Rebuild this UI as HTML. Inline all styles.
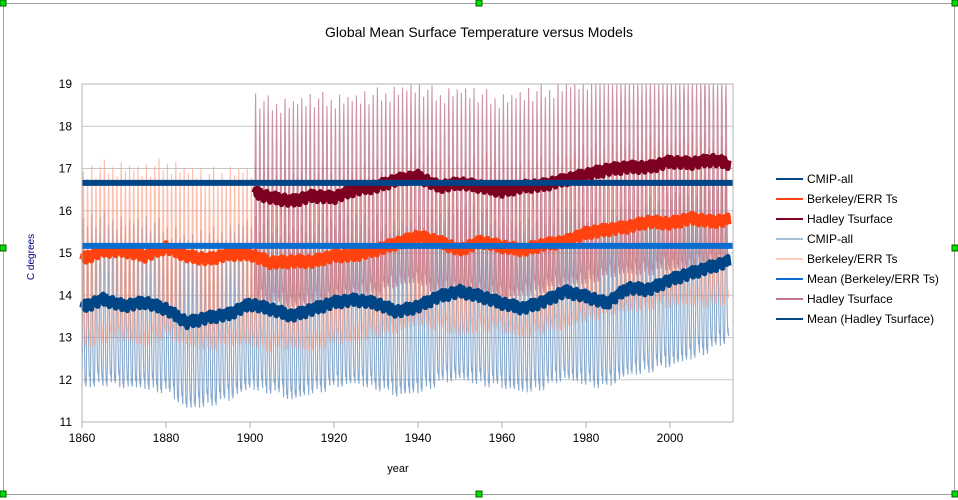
<!DOCTYPE html>
<html><head><meta charset="utf-8"><style>
body{margin:0;background:#fff;}
svg{display:block;font-family:"Liberation Sans",sans-serif;}
</style></head><body>
<svg id="chart" width="958" height="500" viewBox="0 0 958 500">
<rect x="0" y="0" width="958" height="500" fill="#fff"/>
<rect x="3.5" y="3.5" width="951" height="491" fill="none" stroke="#a0a0a0" stroke-width="1"/>
<text x="479" y="37" text-anchor="middle" font-size="14" fill="#000">Global Mean Surface Temperature versus Models</text>
<text x="398" y="472" text-anchor="middle" font-size="11" fill="#000">year</text>
<text transform="translate(34,257) rotate(-90)" text-anchor="middle" font-size="10" fill="#000080">C degrees</text>
<g id="grid"></g>
<g id="thin"></g>
<g id="thick"></g>
<g id="axes"></g>
<g id="legend"></g>
<g id="handles"></g>
</svg>
<script>
const NS='http://www.w3.org/2000/svg';
const years=[1860,1865,1870,1875,1880,1885,1890,1895,1900,1905,1910,1915,1920,1925,1930,1935,1940,1945,1950,1955,1960,1965,1970,1975,1980,1985,1990,1995,2000,2005,2010,2014];
const cmipMean=[13.71,13.9,13.75,13.83,13.67,13.35,13.47,13.55,13.79,13.67,13.51,13.67,13.83,13.89,13.81,13.61,13.73,13.97,14.09,13.97,13.81,13.69,13.85,14.09,13.97,13.81,14.17,14.13,14.36,14.52,14.68,14.8];
const cmipHigh=[15.7,15.8,15.7,15.7,15.6,15.3,15.4,15.5,15.7,15.6,15.5,15.6,15.8,15.8,15.7,15.6,15.7,15.9,16.0,15.9,15.7,15.6,15.8,16.0,15.9,15.8,16.1,16.1,16.3,16.5,16.6,16.8];
const cmipLow=[11.9,12.0,11.9,11.9,11.8,11.4,11.5,11.6,11.9,11.8,11.6,11.8,11.9,12.0,11.9,11.7,11.8,12.0,12.1,12.0,11.9,11.8,11.9,12.1,12.0,11.9,12.2,12.3,12.4,12.6,12.8,13.0];
const berkMean=[14.85,15.05,15.05,14.93,15.13,14.93,14.85,14.97,14.97,14.77,14.8,14.8,14.93,14.95,15.07,15.23,15.39,15.27,15.07,15.27,15.15,15.07,15.2,15.27,15.47,15.55,15.62,15.74,15.7,15.82,15.74,15.78];
const berkHigh=[16.8,17.0,17.0,16.9,17.1,16.9,16.8,16.9,16.9,16.8,16.8,16.8,16.9,16.9,17.0,17.1,17.3,17.2,17.0,17.2,17.1,17.0,17.1,17.2,17.4,17.4,17.5,17.6,17.6,17.7,17.6,17.6];
const berkLow=[12.8,13.0,13.0,12.9,13.1,12.9,12.8,12.9,12.9,12.8,12.8,12.8,12.9,13.0,13.1,13.2,13.4,13.3,13.1,13.3,13.2,13.1,13.2,13.3,13.5,13.6,13.7,13.8,13.8,13.9,13.8,13.9];
const hadYears=[1901,1905,1910,1915,1920,1925,1930,1935,1940,1945,1950,1955,1960,1965,1970,1975,1980,1985,1990,1995,2000,2005,2010,2014];
const hadMean=[16.43,16.31,16.23,16.35,16.31,16.5,16.57,16.73,16.81,16.57,16.65,16.57,16.46,16.57,16.61,16.73,16.85,16.97,17.03,17.03,17.16,17.12,17.2,17.12];
const hadHigh=[18.6,18.5,18.5,18.6,18.6,18.6,18.7,18.8,18.9,18.7,18.8,18.7,18.6,18.7,18.8,18.9,19.0,19.2,19.3,19.3,19.4,19.4,19.5,19.4];
const hadLow=[14.0,13.9,13.8,13.9,13.9,14.1,14.1,14.3,14.4,14.1,14.2,14.1,14.0,14.1,14.2,14.3,14.4,14.5,14.6,14.6,14.7,14.7,14.8,14.7];
const meanBerk=15.17;
const meanHad=16.66;
const yTicks=[11,12,13,14,15,16,17,18,19];
const xTicks=[1860,1880,1900,1920,1940,1960,1980,2000];
const legendLabels=['CMIP-all','Berkeley/ERR Ts','Hadley Tsurface','CMIP-all','Berkeley/ERR Ts','Mean (Berkeley/ERR Ts)','Hadley Tsurface','Mean (Hadley Tsurface)'];
const legendColors=['#004586','#ff420e','#7e0021','#a8bfd8','#ffc8b8','#0a6dd0','#c07890','#004586'];

const L=82,R=733,T=84,B=422;
const xS=y=>L+(y-1860)*4.2;
const yS=v=>B-(v-11)*(B-T)/8;
function mk(tag,attrs,parent){const e=document.createElementNS(NS,tag);for(const k in attrs)e.setAttribute(k,attrs[k]);parent.appendChild(e);return e;}
function interp(xs,vs,x){if(x<=xs[0])return vs[0];for(let i=1;i<xs.length;i++){if(x<=xs[i]){const t=(x-xs[i-1])/(xs[i]-xs[i-1]);return vs[i-1]+t*(vs[i]-vs[i-1]);}}return vs[vs.length-1];}

const grid=document.getElementById('grid');
yTicks.forEach(v=>{
 const ln=mk('line',{x1:L,x2:R,y1:yS(v),y2:yS(v),stroke:'#c8c8c8','stroke-width':1},grid);
 
 
});

const thin=document.getElementById('thin');
const cyc=[0,0.15,0.45,0.85,1,0.8,0.5,0.25,0.1,0.02,0.05,0.0];
const jig=[0.0,0.04,-0.03,0.06,-0.05,0.02,0.07,-0.04,0.01,-0.06,0.05,-0.02,0.03];
function thinPath(xs,hi,lo,y0,y1,color,op,name){
 let d='';
 for(let y=y0;y<y1;y++){
  const j=jig[y%13];
  for(let m=0;m<12;m++){
   const yy=y+m/12;
   if(yy>y1)break;
   const h=interp(xs,hi,yy)+j*3,l=interp(xs,lo,yy)-j*2;
   const v=Math.min(19,l+(h-l)*cyc[m]);
   d+=(d?'L':'M')+xS(yy).toFixed(1)+' '+yS(v).toFixed(1);
  }
 }
 const p=mk('path',{d:d,fill:'none',stroke:color,'stroke-width':1.1,'stroke-opacity':op},thin);
 
 
}
thinPath(years,cmipHigh,cmipLow,1860,2014,'#5f8cbc',0.75,'cmip-all-monthly');
thinPath(years,berkHigh,berkLow,1860,2014,'#ff9a80',0.65,'berkeley-monthly');
thinPath(hadYears,hadHigh,hadLow,1901,2014,'#b05a78',0.65,'hadley-monthly');

const thick=document.getElementById('thick');
const noise=[0,0.09,-0.05,0.12,-0.1,0.04,0.1,-0.08,0.02,-0.12,0.07,-0.03,0.11,-0.06,0.05,-0.11,0.08];
function thickPath(xs,vs,color,name){
 let d='';let k=0;
 for(let y=xs[0];y<=xs[xs.length-1];y+=0.25){
  const w=noise[k%noise.length];k++;
  d+=(d?'L':'M')+xS(y).toFixed(1)+' '+yS(interp(xs,vs,y)+w).toFixed(1);
 }
 const p=mk('path',{d:d,fill:'none',stroke:color,'stroke-width':5.5,'stroke-linejoin':'round'},thick);
 
 
}
thickPath(years,cmipMean,'#004586','cmip-all-line');
thickPath(years,berkMean,'#ff420e','berkeley-line');
thickPath(hadYears,hadMean,'#7e0021','hadley-line');
const m1=mk('line',{x1:L,x2:R,y1:yS(meanBerk),y2:yS(meanBerk),stroke:'#0a6dd0','stroke-width':6},thick);


const m2=mk('line',{x1:L,x2:R,y1:yS(meanHad),y2:yS(meanHad),stroke:'#004586','stroke-width':6},thick);



const axes=document.getElementById('axes');
const frame=mk('rect',{x:L,y:T,width:R-L,height:B-T,fill:'none',stroke:'#b3b3b3','stroke-width':1},axes);


yTicks.forEach(v=>{
 const t=mk('text',{x:72,y:yS(v)+4,'text-anchor':'end','font-size':12,fill:'#000'},axes);
 t.textContent=v;
 
 
});
xTicks.forEach(v=>{
 const tk=mk('line',{x1:xS(v),x2:xS(v),y1:B,y2:B+6,stroke:'#b3b3b3'},axes);
 
 
 const t=mk('text',{x:xS(v),y:442,'text-anchor':'middle','font-size':12,fill:'#000'},axes);
 t.textContent=v;
 
 
});

const leg=document.getElementById('legend');
legendLabels.forEach((lab,i)=>{
 const y=179+i*20;
 const g=mk('g',{},leg);
 
 
 mk('line',{x1:776,x2:803,y1:y,y2:y,stroke:legendColors[i],'stroke-width':2},g);
 const t=mk('text',{x:807,y:y+4,'font-size':12,fill:'#000'},g);
 t.textContent=lab;
});

const hd=document.getElementById('handles');
[[3,3],[479,3],[955,3],[3,248],[955,248],[3,494],[479,494],[955,494]].forEach((p,i)=>{
 const r=mk('rect',{x:p[0]-3,y:p[1]-3,width:6,height:6,fill:'#00e000',stroke:'#006000','stroke-width':1},hd);
 
 
});
</script>
</body></html>
